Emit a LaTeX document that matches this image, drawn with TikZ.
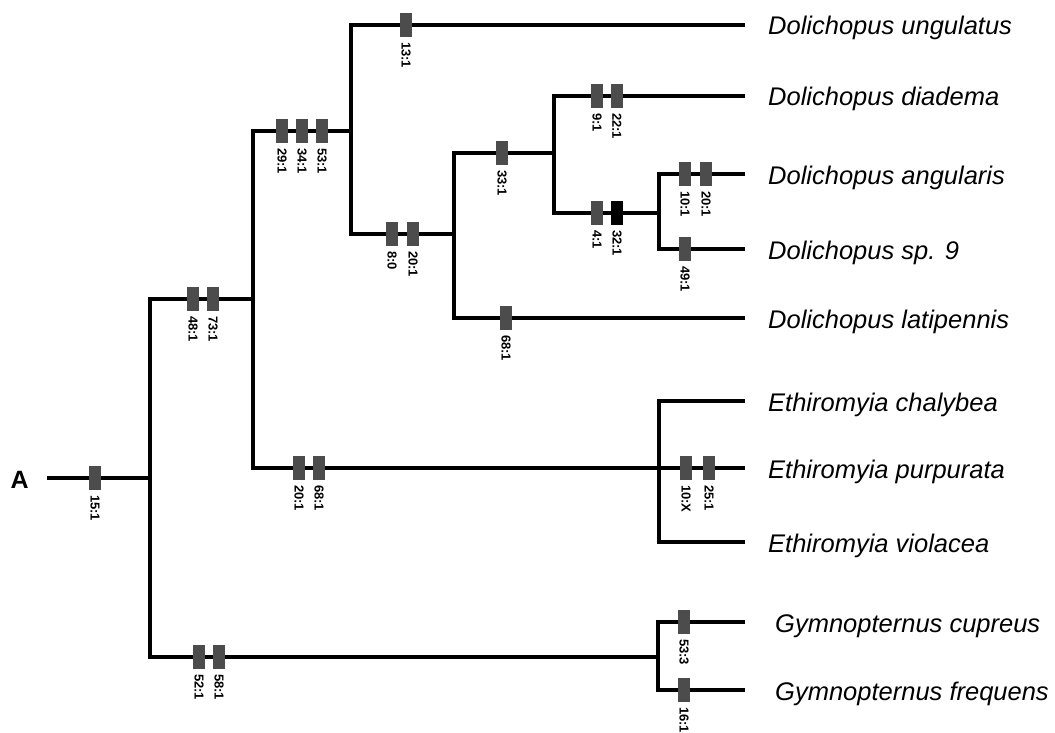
\documentclass[tikz,border=0pt]{standalone}
\usepackage{fontspec}
\setmainfont{Liberation Sans}
\newcommand{\chrmark}[5]{%
  \node[#5] (c#1) at (#2,#3) {};
  \node[chrlab] (l#1) at ([yshift=-5pt]c#1.south) {#4};}
\begin{document}
\begin{tikzpicture}[x=1pt,y=-1pt,
  branch/.style={line width=3.3pt, line join=miter},
  chr/.style={fill=black!70, minimum width=12pt, minimum height=24pt, inner sep=0pt, outer sep=0pt},
  chrblack/.style={chr, fill=black},
  chrlab/.style={rotate=-90, anchor=west, inner sep=0pt, font=\fontsize{13}{13}\selectfont\bfseries},
  taxon/.style={anchor=base west, inner sep=0pt, font=\fontsize{25.5}{26}\selectfont\itshape},
]
\useasboundingbox (0,0) rectangle (1055,733);

% root label
\node[anchor=base east, inner sep=0pt, font=\fontsize{25}{25}\selectfont\bfseries] (A) at (29,488) {A};

% internal coordinates
\coordinate (r0) at (47,478);
\coordinate (n1) at (150,478);
\coordinate (n2) at (253,299);
\coordinate (n3) at (351,131);
\coordinate (n4) at (454,234);
\coordinate (n5) at (554,153);
\coordinate (n6) at (659,213);
\coordinate (n7) at (659,468);
\coordinate (n8) at (658,657);
% tips
\coordinate (t1) at (745,25);
\coordinate (t2) at (745,96);
\coordinate (t3) at (745,174);
\coordinate (t4) at (745,249);
\coordinate (t5) at (745,318);
\coordinate (t6) at (745,401);
\coordinate (t7) at (745,468);
\coordinate (t8) at (745,542);
\coordinate (t9) at (745,622);
\coordinate (t10) at (745,690);

% branches
\draw[branch] (r0) -- (n1);
\draw[branch] (n2) -| (n1) |- (n8);
\draw[branch] (n3) -| (n2) |- (n7);
\draw[branch] (t1) -| (n3) |- (n4);
\draw[branch] (n5) -| (n4) |- (t5);
\draw[branch] (t2) -| (n5) |- (n6);
\draw[branch] (t3) -| (n6) |- (t4);
\draw[branch] (t6) -| (n7) |- (t8);
\draw[branch] (n7) -- (t7);
\draw[branch] (t9) -| (n8) |- (t10);

% taxa
\node[taxon] (x1) at (768,35) {Dolichopus ungulatus};
\node[taxon] (x2) at (768,106) {Dolichopus diadema};
\node[taxon] (x3) at (768,184) {Dolichopus angularis};
\node[taxon] (x4) at (768,259) {Dolichopus sp. 9};
\node[taxon] (x5) at (768,328) {Dolichopus latipennis};
\node[taxon] (x6) at (768,411) {Ethiromyia chalybea};
\node[taxon] (x7) at (768,478) {Ethiromyia purpurata};
\node[taxon] (x8) at (768,552) {Ethiromyia violacea};
\node[taxon] (x9) at (775,632) {Gymnopternus cupreus};
\node[taxon] (x10) at (775,700) {Gymnopternus frequens};

% character changes
\chrmark{a}{95}{478}{15:1}{chr}
\chrmark{b}{193}{299}{48:1}{chr}
\chrmark{c}{213}{299}{73:1}{chr}
\chrmark{d}{282}{131}{29:1}{chr}
\chrmark{e}{302}{131}{34:1}{chr}
\chrmark{f}{322}{131}{53:1}{chr}
\chrmark{g}{406}{25}{13:1}{chr}
\chrmark{h}{392}{234}{8:0}{chr}
\chrmark{i}{413}{234}{20:1}{chr}
\chrmark{j}{502}{153}{33:1}{chr}
\chrmark{k}{597}{96}{9:1}{chr}
\chrmark{l}{617}{96}{22:1}{chr}
\chrmark{m}{597}{213}{4:1}{chr}
\chrmark{n}{617}{213}{32:1}{chrblack}
\chrmark{o}{685}{174}{10:1}{chr}
\chrmark{p}{706}{174}{20:1}{chr}
\chrmark{q}{685}{249}{49:1}{chr}
\chrmark{r}{506}{318}{68:1}{chr}
\chrmark{s}{299}{468}{20:1}{chr}
\chrmark{t}{319}{468}{68:1}{chr}
\chrmark{u}{686}{468}{10:X}{chr}
\chrmark{v}{709}{468}{25:1}{chr}
\chrmark{w}{199}{657}{52:1}{chr}
\chrmark{x}{219}{657}{58:1}{chr}
\chrmark{y}{684}{622}{53:3}{chr}
\chrmark{z}{684}{690}{16:1}{chr}
\end{tikzpicture}
\end{document}
